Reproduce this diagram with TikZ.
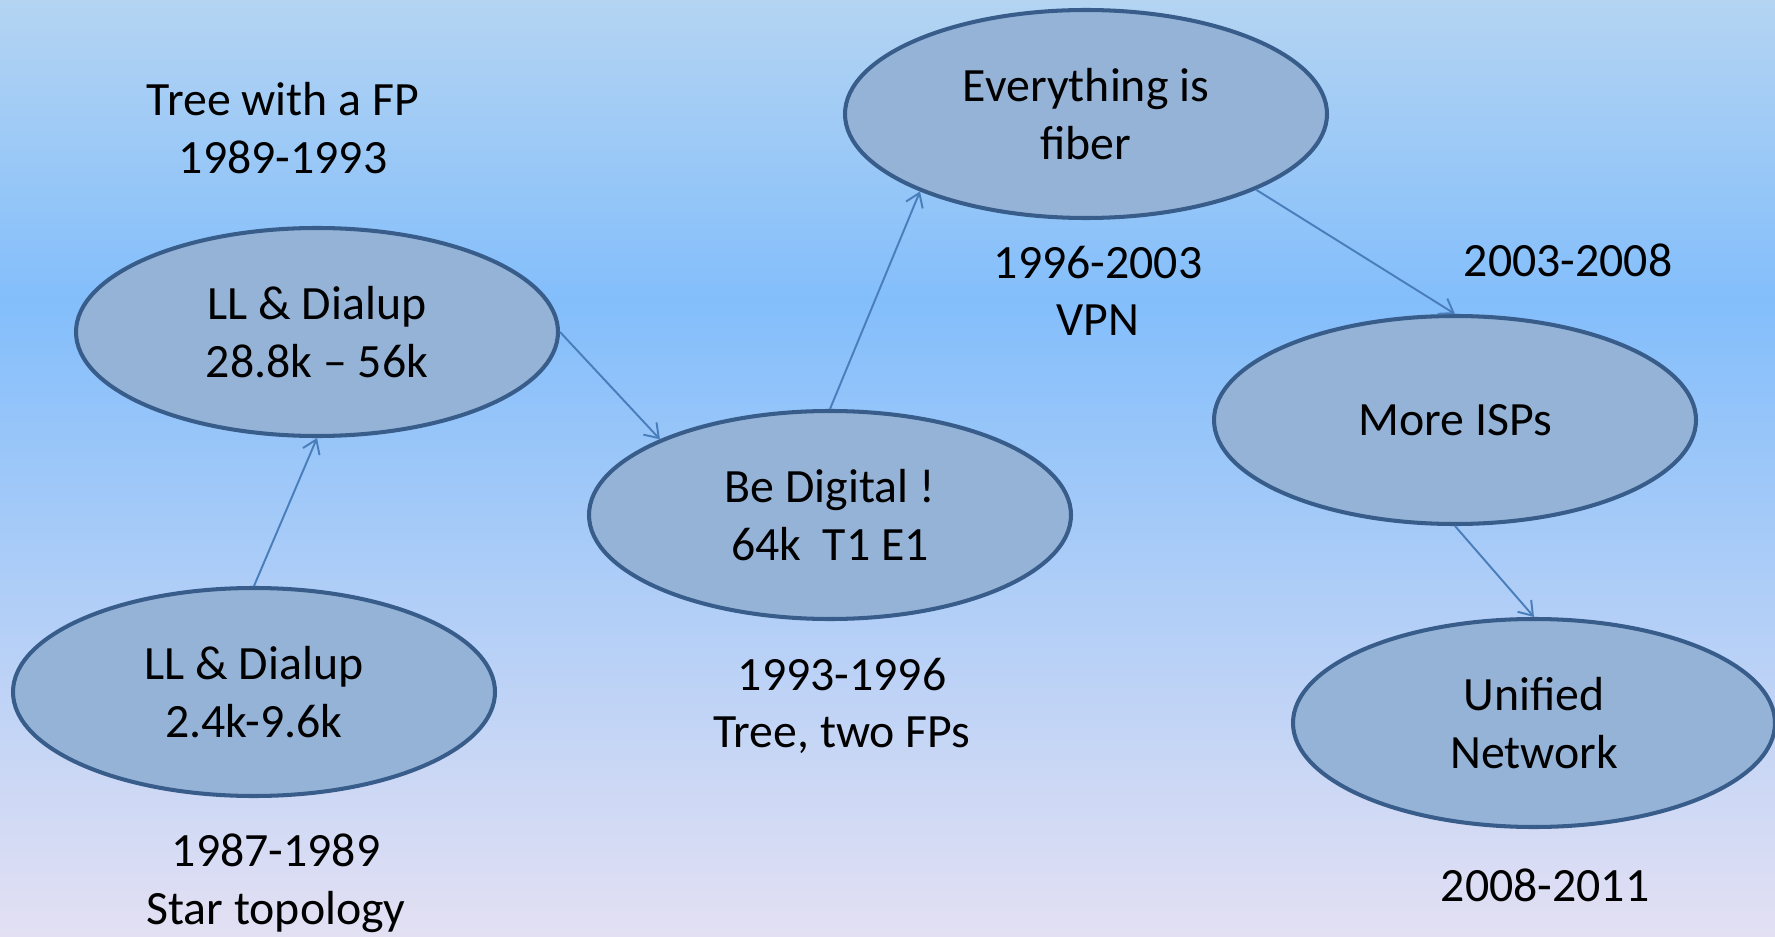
\documentclass[tikz,border=0pt]{standalone}
\usepackage{fontspec}
\setmainfont{Carlito}
\usepackage{tikz}
\usetikzlibrary{shapes.geometric, arrows.meta}
\definecolor{skytop}{HTML}{B4D4F2}
\definecolor{skymid}{HTML}{83BEFB}
\definecolor{skybot}{HTML}{E3E0F3}
\definecolor{ovalfill}{HTML}{95B3D7}
\definecolor{ovaldraw}{HTML}{385D8A}
\definecolor{linkblue}{HTML}{4A7EBB}

\begin{document}
\begin{tikzpicture}[>={Straight Barb[length=2.6mm, width=3.6mm]},
  every node/.style={font=\fontsize{27.2}{32.8}\selectfont, align=center},
  oval/.style={ellipse, draw=ovaldraw, fill=ovalfill, line width=2.3pt,
    minimum width=9.64cm, minimum height=4.16cm, inner sep=0pt},
  link/.style={->, linkblue, line width=1.1pt}]

  % background
  \useasboundingbox (0,0) rectangle (35.5,18.72);
  \shade[top color=skytop, bottom color=skymid] (0,12.72) rectangle (35.5,18.72);
  \shade[top color=skymid, bottom color=skybot] (0,0) rectangle (35.5,12.72);

  \node[oval] (llslow) at (5.08,4.88) {LL \& Dialup\\2.4k-9.6k};
  \node[oval] (llfast) at (6.34,12.08) {LL \& Dialup\\28.8k -- 56k};
  \node[oval] (digital) at (16.6,8.42) {Be Digital !\\64k~~T1 E1};
  \node[oval] (fiber) at (21.72,16.44) {Everything is\\fiber};
  \node[oval] (isps) at (29.1,10.32) {More ISPs};
  \node[oval] (unified) at (30.68,4.26) {Unified\\Network};

  \node (yrslow) at (5.52,1.06) {1987-1989\\Star topology};
  \node (yrfast) at (5.66,16.16) {Tree with a FP\\1989-1993};
  \node (yrdigital) at (16.84,4.6) {1993-1996\\Tree, two FPs};
  \node (yrfiber) at (21.96,12.9) {1996-2003\\VPN};
  \node (yrisps) at (31.36,13.52) {2003-2008};
  \node (yrunified) at (30.9,1.02) {2008-2011};

  \draw[link] (llslow.north) -- (llfast.south);
  \draw[link] (llfast.east) -- (digital.156);
  \draw[link] (digital.north) -- (fiber.205);
  \draw[link] (fiber.336) -- (isps.north);
  \draw[link] (isps.south) -- (unified.north);

\end{tikzpicture}
\end{document}
